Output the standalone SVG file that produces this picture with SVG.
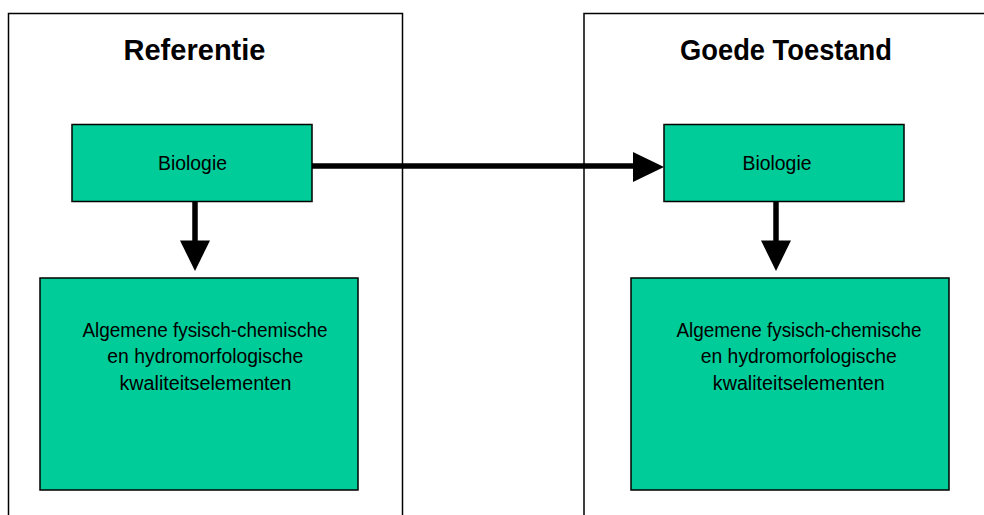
<svg xmlns="http://www.w3.org/2000/svg" width="984" height="515" viewBox="0 0 984 515">
<style>
.frame{fill:#fff;stroke:#000;stroke-width:1.5}
.node{fill:#00CC99;stroke:#000;stroke-width:1.5}
.title{font-family:"Liberation Sans",Arial,sans-serif;font-weight:bold;font-size:30px;fill:#000;text-anchor:middle}
.lbl{font-family:"Liberation Sans",Arial,sans-serif;font-size:19.5px;fill:#000;text-anchor:middle}
.conn{stroke:#000;stroke-width:5.5;fill:none}
.head{fill:#000}
</style>
<rect width="984" height="515" fill="#fff"/>
<g id="referentie">
<rect class="frame" x="8.5" y="13.5" width="394" height="520"/>
<text class="title" x="194.5" y="60" textLength="142" lengthAdjust="spacingAndGlyphs">Referentie</text>
</g>
<g id="goede-toestand">
<rect class="frame" x="584" y="13.5" width="420" height="520"/>
<text class="title" x="786" y="60" textLength="212" lengthAdjust="spacingAndGlyphs">Goede Toestand</text>
</g>
<g id="connectors">
<line class="conn" x1="312" y1="166" x2="636" y2="166"/>
<polygon class="head" points="633,152 664,167 633,182"/>
<line class="conn" x1="195" y1="201" x2="195" y2="244"/>
<polygon class="head" points="180,240.5 210,240.5 195,271"/>
<line class="conn" x1="776" y1="201" x2="776" y2="244"/>
<polygon class="head" points="761,240.5 791,240.5 776,271"/>
</g>
<g id="biologie-ref">
<rect class="node" x="72" y="124.5" width="240" height="77"/>
<text class="lbl" x="192.5" y="170" textLength="69" lengthAdjust="spacingAndGlyphs">Biologie</text>
</g>
<g id="biologie-goed">
<rect class="node" x="664" y="124.5" width="240" height="77"/>
<text class="lbl" x="777" y="170" textLength="69" lengthAdjust="spacingAndGlyphs">Biologie</text>
</g>
<g id="kwaliteit-ref">
<rect class="node" x="40" y="278" width="318" height="212"/>
<text class="lbl" x="205" y="336.5" textLength="245" lengthAdjust="spacingAndGlyphs">Algemene fysisch-chemische</text>
<text class="lbl" x="205.3" y="363.3" textLength="196" lengthAdjust="spacingAndGlyphs">en hydromorfologische</text>
<text class="lbl" x="205.5" y="390" textLength="172" lengthAdjust="spacingAndGlyphs">kwaliteitselementen</text>
</g>
<g id="kwaliteit-goed">
<rect class="node" x="631" y="278" width="318" height="212"/>
<text class="lbl" x="799" y="336.5" textLength="245" lengthAdjust="spacingAndGlyphs">Algemene fysisch-chemische</text>
<text class="lbl" x="798.7" y="363.3" textLength="196" lengthAdjust="spacingAndGlyphs">en hydromorfologische</text>
<text class="lbl" x="798.8" y="390" textLength="172" lengthAdjust="spacingAndGlyphs">kwaliteitselementen</text>
</g>
</svg>
